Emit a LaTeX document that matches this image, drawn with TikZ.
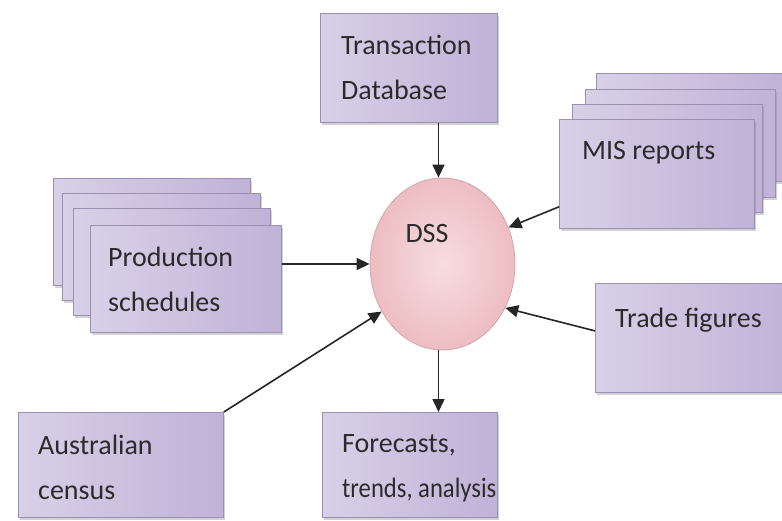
\documentclass[tikz,border=0pt]{standalone}
\usepackage{fontspec}
\setmainfont{Carlito}
\usetikzlibrary{shapes.geometric,shadows,arrows.meta}
\definecolor{boxL}{HTML}{D8D0E7}
\definecolor{boxM}{HTML}{EFECF5}
\definecolor{boxR}{HTML}{C0B2D8}
\definecolor{boxB}{HTML}{9A90B2}
\definecolor{dssIn}{HTML}{F7DDE0}
\definecolor{dssOut}{HTML}{EDBDC2}
\definecolor{dssB}{HTML}{D3A3A8}
\definecolor{txt}{HTML}{2B2B2B}
\tikzset{
  box/.style={rectangle, draw=boxB, line width=0.8pt, left color=boxL, middle color=boxM, right color=boxR,
    drop shadow={shadow xshift=2pt, shadow yshift=-2.5pt, opacity=0.35},
    anchor=north west, inner sep=0pt},
  lbl/.style={text=txt, align=left, anchor=base west, inner sep=0pt,
    font=\fontsize{28}{45}\selectfont},
  arr/.style={draw=black!85, line width=1.6pt, -{Triangle[length=13pt,width=12pt]}},
  dssnode/.style={ellipse, draw=dssB, line width=0.8pt, inner color=dssIn, outer color=dssOut,
    minimum width=145pt, minimum height=172pt, inner sep=0pt}
}
\begin{document}
\begin{tikzpicture}[x=1pt,y=-1pt]
\useasboundingbox[fill=white] (0,0) rectangle (782,521);
% Transaction database
\node[box, minimum width=177pt, minimum height=109pt] (td) at (320,13) {};
\node[lbl] (tdt) at ([xshift=21pt,yshift=-87pt]td.north west) {Transaction\\Database};
% MIS reports stack
\node[box, minimum width=190pt, minimum height=108pt] (mis3) at (596,73) {};
\node[box, minimum width=190pt, minimum height=108pt] (mis2) at (585,89) {};
\node[box, minimum width=190pt, minimum height=108pt] (mis1) at (572,104) {};
\node[box, minimum width=195pt, minimum height=109pt] (misf) at (559,119) {};
\node[lbl] (mist) at ([xshift=23pt,yshift=-41pt]misf.north west) {MIS reports};
% Production schedules stack
\node[box, minimum width=197pt, minimum height=107pt] (ps3) at (53,178) {};
\node[box, minimum width=198pt, minimum height=107pt] (ps2) at (62,193) {};
\node[box, minimum width=197pt, minimum height=107pt] (ps1) at (73,208) {};
\node[box, minimum width=191pt, minimum height=107pt] (psf) at (90,225) {};
\node[lbl] (pst) at ([xshift=18pt,yshift=-87pt]psf.north west) {Production\\schedules};
% Trade figures
\node[box, minimum width=200pt, minimum height=109pt] (tf) at (595,283) {};
\node[lbl] (tft) at ([xshift=20pt,yshift=-44pt]tf.north west) {Trade figures};
% Australian census
\node[box, minimum width=205pt, minimum height=105pt] (ac) at (18,412) {};
\node[lbl] (act) at ([xshift=20pt,yshift=-87pt]ac.north west) {Australian\\census};
% Forecasts
\node[box, minimum width=175pt, minimum height=105pt] (fc) at (322,412) {};
\node[lbl] (fct) at ([xshift=20pt,yshift=-85pt]fc.north west) {Forecasts,\\\scalebox{0.88}[1]{trends, analysis}};
% DSS
\node[dssnode] (dss) at (442.5,264) {};
\node[lbl, anchor=base] (dsst) at (427,243) {DSS};
% connectors
\draw[arr] ([xshift=-4pt]dss.north |- td.south) -- ([xshift=-4pt]dss.north);
\draw[arr] (psf.east |- dss.west) -- (dss.west);
\draw[arr] ([yshift=22pt]misf.south west) -- (dss.29);
\draw[arr] ([yshift=7pt]tf.west) -- (dss.-35);
\draw[arr] (ac.north east) -- (dss.218);
\draw[arr] ([xshift=-4pt]dss.south) -- ([xshift=-4pt]dss.south |- fc.north);
\end{tikzpicture}
\end{document}
